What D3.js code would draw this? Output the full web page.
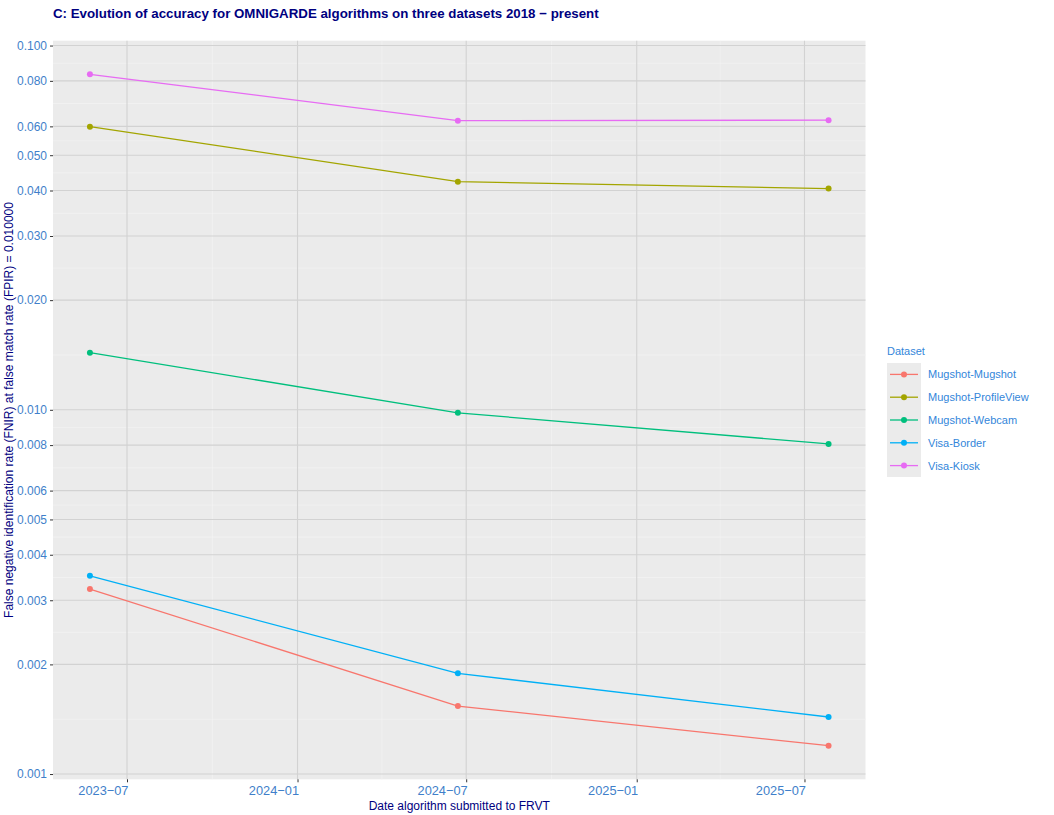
<!DOCTYPE html>
<html><head><meta charset="utf-8">
<script src="https://cdn.jsdelivr.net/npm/d3@7"></script>
<style>body{margin:0;background:#fff;} text{font-family:"Liberation Sans",Arial,sans-serif;}</style>
</head><body><svg id="c" width="1054" height="815"></svg>
<script>
const seriesNames = ["Mugshot-Mugshot","Mugshot-ProfileView","Mugshot-Webcam","Visa-Border","Visa-Kiosk"];
const seriesColors = ["#F8766D","#A3A500","#00BF7D","#00B0F6","#E76BF3"];
const dates = ["2023-05-22","2024-06-22","2025-07-27"];
const mugshotMugshot = [0.00322, 0.001537, 0.001196];
const mugshotProfile = [0.0599, 0.0423, 0.0405];
const mugshotWebcam = [0.01435, 0.00981, 0.00806];
const visaBorder = [0.00350, 0.00189, 0.001434];
const visaKiosk = [0.0834, 0.0622, 0.0624];
const yTicks = [0.001,0.002,0.003,0.004,0.005,0.006,0.008,0.010,0.020,0.030,0.040,0.050,0.060,0.080,0.100];
const xTicks = ["2023-07-01","2024-01-01","2024-07-01","2025-01-01","2025-07-01"];
const xMinor = ["2023-10-01","2024-04-01","2024-10-01","2025-04-01"];
const titleText = "C: Evolution of accuracy for OMNIGARDE algorithms on three datasets 2018 \u2212 present";
const xTitle = "Date algorithm submitted to FRVT";
const yTitle = "False negative identification rate (FNIR) at false match rate (FPIR) = 0.010000";

const allVals = [mugshotMugshot,mugshotProfile,mugshotWebcam,visaBorder,visaKiosk];
const parse = d3.timeParse("%Y-%m-%d");
const series = seriesNames.map((n,i)=>({name:n,color:seriesColors[i],pts:dates.map((d,j)=>({x:parse(d),y:allVals[i][j]}))}));

const svg = d3.select("#c");
const P = {l:53, r:865.5, t:40.7, b:779.3};

const xd = d3.extent(dates.map(parse));
const span = xd[1]-xd[0];
const x = d3.scaleTime().domain([new Date(+xd[0]-0.05*span), new Date(+xd[1]+0.05*span)]).range([P.l,P.r]);
const flat = allVals.flat();
const lmin = Math.log10(d3.min(flat)), lmax = Math.log10(d3.max(flat));
const lr = lmax-lmin;
const y = d3.scaleLog().domain([Math.pow(10,lmin-0.05*lr), Math.pow(10,lmax+0.05*lr)]).range([P.b,P.t]);

svg.append("rect").attr("x",P.l).attr("y",P.t).attr("width",P.r-P.l).attr("height",P.b-P.t).attr("fill","#EBEBEB");

const minorY = [];
for(let i=0;i<yTicks.length-1;i++) minorY.push(Math.sqrt(yTicks[i]*yTicks[i+1]));
svg.append("g").selectAll("line").data(minorY).join("line")
  .attr("x1",P.l).attr("x2",P.r).attr("y1",d=>y(d)).attr("y2",d=>y(d))
  .attr("stroke","#F5F5F5").attr("stroke-width",0.6);
svg.append("g").selectAll("line").data(xMinor.map(parse)).join("line")
  .attr("y1",P.t).attr("y2",P.b).attr("x1",d=>x(d)).attr("x2",d=>x(d))
  .attr("stroke","#F5F5F5").attr("stroke-width",0.6);
svg.append("g").selectAll("line").data(yTicks).join("line")
  .attr("x1",P.l).attr("x2",P.r).attr("y1",d=>y(d)).attr("y2",d=>y(d))
  .attr("stroke","#D2D2D2").attr("stroke-width",1.1);
svg.append("g").selectAll("line").data(xTicks.map(parse)).join("line")
  .attr("y1",P.t).attr("y2",P.b).attr("x1",d=>x(d)).attr("x2",d=>x(d))
  .attr("stroke","#D2D2D2").attr("stroke-width",1.1);

const tickColor = "#3F7FCA";
const yAxis = d3.axisLeft(y).tickValues(yTicks).tickFormat(d3.format(".3f")).tickSize(3).tickPadding(3);
const gy = svg.append("g").attr("transform",`translate(${P.l},0)`).call(yAxis);
gy.select(".domain").remove();
gy.selectAll(".tick line").attr("stroke","#333").attr("stroke-width",1);
gy.selectAll(".tick text").attr("fill",tickColor).style("font-size","12px");
const xAxis = d3.axisBottom(x).tickValues(xTicks.map(parse)).tickFormat(d3.timeFormat("%Y\u2212%m")).tickSize(3).tickPadding(4);
const gx = svg.append("g").attr("transform",`translate(0,${P.b})`).call(xAxis);
gx.select(".domain").remove();
gx.selectAll(".tick line").attr("stroke","#333").attr("stroke-width",1);
gx.selectAll(".tick text").attr("fill",tickColor).style("font-size","12.8px").attr("text-anchor","end").attr("x",1);

const line = d3.line().x(d=>x(d.x)).y(d=>y(d.y));
series.forEach(s=>{
  svg.append("path").datum(s.pts).attr("d",line).attr("fill","none").attr("stroke",s.color).attr("stroke-width",1.3);
  svg.append("g").selectAll("circle").data(s.pts).join("circle")
    .attr("cx",d=>x(d.x)).attr("cy",d=>y(d.y)).attr("r",3).attr("fill",s.color);
});

svg.append("text").attr("x",P.l).attr("y",18).text(titleText)
  .attr("fill","#000080").style("font-size","13.3px").style("font-weight","bold");
svg.append("text").attr("x",(P.l+P.r)/2).attr("y",810).attr("text-anchor","middle").text(xTitle)
  .attr("fill","#000080").style("font-size","12px");
svg.append("text").attr("transform",`translate(13,${(P.t+P.b)/2}) rotate(-90)`).attr("text-anchor","middle").text(yTitle)
  .attr("fill","#000080").style("font-size","12px");

const legColor = "#3386DA";
const lg = svg.append("g").attr("transform","translate(887,0)");
lg.append("text").attr("x",0).attr("y",355).text("Dataset").attr("fill",legColor).style("font-size","11px");
const key0 = 363, keyH = 22.8;
lg.append("rect").attr("x",0).attr("y",key0).attr("width",34).attr("height",keyH*seriesNames.length).attr("fill","#EBEBEB");
series.forEach((s,i)=>{
  const cy = key0 + keyH*(i+0.5);
  lg.append("line").attr("x1",3).attr("x2",31).attr("y1",cy).attr("y2",cy).attr("stroke",s.color).attr("stroke-width",1.3);
  lg.append("circle").attr("cx",17).attr("cy",cy).attr("r",3).attr("fill",s.color);
  lg.append("text").attr("x",41).attr("y",cy+4).text(s.name).attr("fill",legColor).style("font-size","11px");
});
</script></body></html>
